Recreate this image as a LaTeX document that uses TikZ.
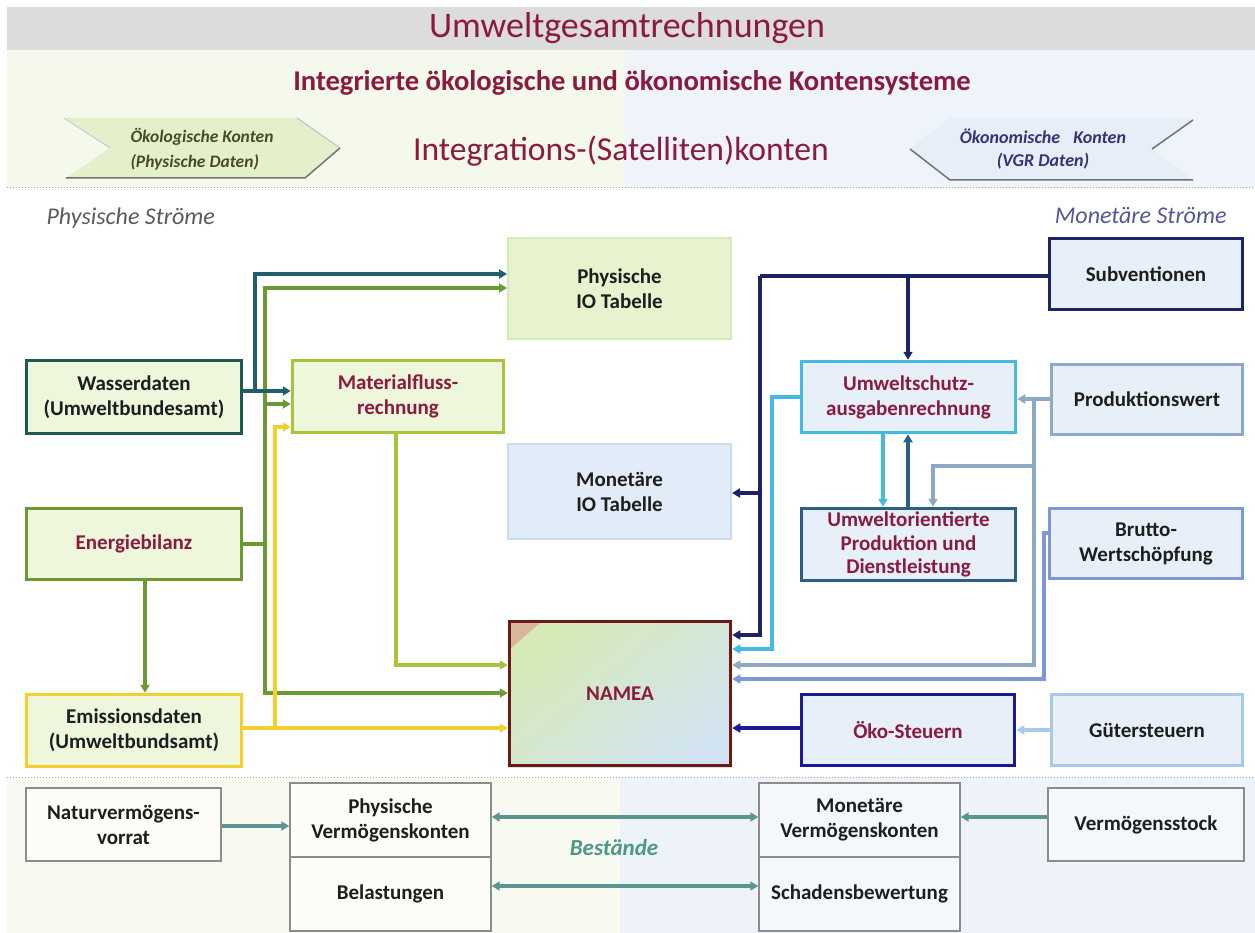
\documentclass[tikz,border=0pt]{standalone}
\usepackage{fontspec}
\setmainfont{Carlito}
\usetikzlibrary{arrows.meta}
\definecolor{mar}{HTML}{8B1A3E}
\definecolor{txt}{HTML}{1E1E1E}
\definecolor{gfill}{HTML}{EEF6DC}
\definecolor{bfill}{HTML}{E7F0F9}
\definecolor{pioF}{HTML}{E6F3CE}
\definecolor{pioD}{HTML}{D6EBB4}
\definecolor{mioF}{HTML}{E1ECF8}
\definecolor{mioD}{HTML}{C9DCEF}
\definecolor{cTeal}{HTML}{1F5E6A}
\definecolor{cWass}{HTML}{1F5A52}
\definecolor{cOlive}{HTML}{6B9A35}
\definecolor{cYel}{HTML}{F2D030}
\definecolor{cYG}{HTML}{A5C63C}
\definecolor{cNamea}{HTML}{6E1818}
\definecolor{cNavy}{HTML}{1C2366}
\definecolor{cLB}{HTML}{45B8E6}
\definecolor{cSteel}{HTML}{2B5F86}
\definecolor{cGB}{HTML}{8EA9C6}
\definecolor{cPeri}{HTML}{7D97D9}
\definecolor{cBlue}{HTML}{1A1A99}
\definecolor{cPale}{HTML}{A9C9E8}
\definecolor{cBot}{HTML}{5A9590}
\definecolor{cGrayBox}{HTML}{8C8C8C}
\definecolor{hdrGray}{HTML}{DCDCDC}
\definecolor{hdrG}{HTML}{F4F9EC}
\definecolor{hdrB}{HTML}{EEF4FA}
\definecolor{botG}{HTML}{F8FAF1}
\definecolor{botB}{HTML}{EEF3F9}
\definecolor{chevG}{HTML}{E3F0CB}
\definecolor{chevB}{HTML}{E6EEF8}
\definecolor{chevGT}{HTML}{4A4A2A}
\definecolor{chevBT}{HTML}{33337A}
\definecolor{physT}{HTML}{5A5A5A}
\definecolor{monT}{HTML}{55559A}
\definecolor{bestT}{HTML}{4C9A84}
\definecolor{namA}{HTML}{D6EAB6}
\definecolor{namB}{HTML}{C8E5C6}
\definecolor{namC}{HTML}{D2E3F1}
\definecolor{namTri}{HTML}{D9B59C}
\begin{document}
\begin{tikzpicture}[x=1pt,y=-1pt,
  box/.style={draw, line width=3.5pt, align=center, inner sep=0pt,
    font=\fontsize{21}{25}\selectfont\bfseries, text=txt},
  gbox/.style={box, fill=gfill},
  bbox/.style={box, fill=bfill},
  lbox/.style={box, line width=1.4pt, draw=cGrayBox},
  con/.style={line width=3.5pt},
  arr/.style={con, -{Triangle[length=8pt,width=9pt]}},
  dbl/.style={con, {Triangle[length=8pt,width=9pt]}-{Triangle[length=8pt,width=9pt]}}]
\useasboundingbox (0,0) rectangle (1255,933);
% backgrounds
\fill[hdrGray] (7,7) rectangle (1255,50);
\fill[hdrG] (7,50) rectangle (625,188);
\fill[hdrB] (625,50) rectangle (1255,188);
\fill[botG] (7,777) rectangle (620,933);
\fill[botB] (620,777) rectangle (1255,933);
\draw[gray!70, line width=1pt, dotted] (7,188) -- (1255,188);
\draw[gray!70, line width=1pt, dotted] (7,777) -- (1255,777);
% header texts
\node[text=mar, font=\fontsize{36}{42}\selectfont] (title) at (627,28) {Umweltgesamtrechnungen};
\node[text=mar, font=\fontsize{28.6}{32}\selectfont\bfseries] (sub) at (632,83) {Integrierte ökologische und ökonomische Kontensysteme};
\node[text=mar, font=\fontsize{33.6}{38}\selectfont] (integ) at (621,151) {Integrations-(Satelliten)konten};
% chevrons
\fill[chevG] (64,118) -- (297,118) -- (340,148) -- (305,178) -- (66,178) -- (110,148) -- cycle;
\draw[gray!40, line width=1pt] (64,118) -- (110,148);
\draw[gray!50, line width=1pt] (297,118) -- (340,148);
\draw[gray!90!black, line width=1.5pt] (66,178) -- (305,178) -- (340,148);
\node[text=chevGT, align=left, anchor=west, font=\fontsize{17.5}{25}\selectfont\bfseries\itshape] (oek) at (127,149) {Ökologische Konten\\(Physische Daten)};
\fill[chevB] (950,118) -- (1193,118) -- (1152,149) -- (1193,180) -- (950,180) -- (910,149) -- cycle;
\draw[gray!90!black, line width=1.5pt] (910,149) -- (950,180) -- (1193,180);
\draw[gray!90!black, line width=1.5pt] (1193,120) -- (1152,149);
\node[text=chevBT, align=center, font=\fontsize{18}{23}\selectfont\bfseries\itshape] (oko) at (1043,149) {Ökonomische\hspace{0.5em} Konten\\(VGR Daten)};
% section labels
\node[text=physT, anchor=west, font=\fontsize{24}{28}\selectfont\itshape] (phs) at (43,218) {Physische Ströme};
\node[text=monT, anchor=east, font=\fontsize{24}{28}\selectfont\itshape] (mos) at (1230,216) {Monetäre Ströme};
% boxes
\node[box, draw=pioD, fill=pioF, line width=2pt, minimum width=223pt, minimum height=101pt] (pio) at (619.5,288.5) {Physische\\IO Tabelle};
\node[box, draw=mioD, fill=mioF, line width=2pt, minimum width=223pt, minimum height=95pt] (mio) at (619.5,491.5) {Monetäre\\IO Tabelle};
\node[gbox, draw=cWass, minimum width=215pt, minimum height=73pt] (wass) at (134,397) {Wasserdaten\\(Umweltbundesamt)};
\node[gbox, draw=cYG, text=mar, minimum width=211pt, minimum height=72pt] (matf) at (398,396.5) {Materialfluss-\\rechnung};
\node[gbox, draw=cOlive, text=mar, minimum width=215pt, minimum height=71pt] (ener) at (134,544) {Energiebilanz};
\node[gbox, draw=cYel, minimum width=215pt, minimum height=72pt] (emis) at (134,730.5) {Emissionsdaten\\(Umweltbundsamt)};
\shade[top color=namA, middle color=namB, bottom color=namC, shading angle=40] (508,620) rectangle (732,767);
\fill[namTri] (511,623) -- (540,623) -- (511,648) -- cycle;
\node[box, draw=cNamea, text=mar, minimum width=221pt, minimum height=144pt] (namea) at (620,693.5) {NAMEA};
\node[bbox, draw=cNavy, minimum width=193pt, minimum height=71pt] (subv) at (1146,274) {Subventionen};
\node[bbox, draw=cLB, text=mar, minimum width=214pt, minimum height=71pt] (ums) at (908.5,397) {Umweltschutz-\\ausgabenrechnung};
\node[bbox, draw=cGB, minimum width=191pt, minimum height=70pt] (prod) at (1147,399.5) {Produktionswert};
\node[bbox, draw=cSteel, text=mar, minimum width=214pt, minimum height=72pt, font=\fontsize{21}{23.5}\selectfont\bfseries] (uop) at (908.5,544.5) {Umweltorientierte\\Produktion und\\Dienstleistung};
\node[bbox, draw=cPeri, minimum width=193pt, minimum height=70pt] (brut) at (1146,543.5) {Brutto-\\Wertschöpfung};
\node[bbox, draw=cBlue, text=mar, minimum width=213pt, minimum height=71pt] (oeko) at (908,730) {Öko-Steuern};
\node[bbox, draw=cPale, minimum width=191pt, minimum height=71pt] (gst) at (1147,730) {Gütersteuern};
% bottom boxes
\node[lbox, fill=white!60!botG, minimum width=195pt, minimum height=73pt] (natv) at (123.5,824.5) {Naturvermögens-\\vorrat};
\node[lbox, fill=white!60!botG, minimum width=201pt, minimum height=74pt] (pvk) at (390.5,820) {Physische\\Vermögenskonten};
\node[lbox, fill=white!60!botG, minimum width=201pt, minimum height=74pt] (bel) at (390.5,894) {Belastungen};
\node[lbox, fill=white!40!botB, minimum width=201pt, minimum height=74pt] (mvk) at (859.5,820) {Monetäre\\Vermögenskonten};
\node[lbox, fill=white!40!botB, minimum width=201pt, minimum height=74pt] (sch) at (859.5,894) {Schadensbewertung};
\node[lbox, fill=white!40!botB, minimum width=196pt, minimum height=73pt] (vst) at (1146,824.5) {Vermögensstock};
\node[text=bestT, font=\fontsize{23}{27}\selectfont\bfseries\itshape] (best) at (614,848) {Bestände};
% --- connectors left
\coordinate (t1) at (255,391);
\coordinate (t2) at (255,274);
\coordinate (o1) at (265,544);
\coordinate (o2) at (265,288);
\coordinate (o3) at (265,404);
\coordinate (o4) at (265,693);
\coordinate (y1) at (275,728);
\coordinate (y2) at (275,427);
\coordinate (m1) at (396,665);
\coordinate (e1) at (145,0);
\draw[arr, cOlive] (ener.east |- o1) -- (o1) -- (o4) -- (namea.west |- o4);
\draw[arr, cOlive] (o1) -- (o2) -- (pio.west |- o2);
\draw[arr, cOlive] (o3) -- (matf.west |- o3);
\draw[arr, cYel] (emis.east |- y1) -- (namea.west |- y1);
\draw[arr, cYel] (y1) -- (y2) -- (matf.west |- y2);
\draw[arr, cTeal] (wass.east |- t1) -- (t1) -- (t2) -- (pio.west |- t2);
\draw[arr, cTeal] (t1) -- (matf.west |- t1);
\draw[arr, cYG] (matf.south -| m1) -- (m1) -- (namea.west |- m1);
\draw[arr, cOlive] (ener.south -| e1) -- (emis.north -| e1);
% --- connectors right
\coordinate (n1) at (760,276);
\coordinate (n2) at (760,635);
\coordinate (n3) at (908,276);
\coordinate (n4) at (760,493);
\coordinate (l1) at (772,397);
\coordinate (l2) at (772,649);
\coordinate (l3) at (883,0);
\coordinate (s1) at (908,0);
\coordinate (g1) at (1034,399);
\coordinate (g2) at (1034,665);
\coordinate (g3) at (1034,466);
\coordinate (g4) at (933,466);
\coordinate (p1) at (1044,533);
\coordinate (p2) at (1044,679);
\coordinate (k1) at (0,728);
\draw[arr, cPeri] (brut.west |- p1) -- (p1) -- (p2) -- (namea.east |- p2);
\draw[arr, cGB] (prod.west |- g1) -- (ums.east |- g1);
\draw[arr, cGB] (g1) -- (g2) -- (namea.east |- g2);
\draw[arr, cGB] (g3) -- (g4) -- (uop.north -| g4);
\draw[arr, cLB] (ums.west |- l1) -- (l1) -- (l2) -- (namea.east |- l2);
\draw[arr, cLB] (ums.south -| l3) -- (uop.north -| l3);
\draw[arr, cSteel] (uop.north -| s1) -- (ums.south -| s1);
\draw[con, cNavy] (subv.west |- n1) -- (n1);
\draw[arr, cNavy] (n1) -- (n2) -- (namea.east |- n2);
\draw[arr, cNavy] (n3) -- (ums.north -| n3);
\draw[arr, cNavy] (n4) -- (mio.east |- n4);
\draw[arr, cBlue] (oeko.west |- k1) -- (namea.east |- k1);
\draw[arr, cPale] (gst.west) -- (oeko.east);
% --- bottom connectors
\coordinate (b1) at (0,826);
\coordinate (b2) at (0,817);
\coordinate (b3) at (0,886);
\draw[arr, cBot] (natv.east |- b1) -- (pvk.west |- b1);
\draw[dbl, cBot] (pvk.east |- b2) -- (mvk.west |- b2);
\draw[dbl, cBot] (bel.east |- b3) -- (sch.west |- b3);
\draw[arr, cBot] (vst.west |- b2) -- (mvk.east |- b2);
\end{tikzpicture}
\end{document}
